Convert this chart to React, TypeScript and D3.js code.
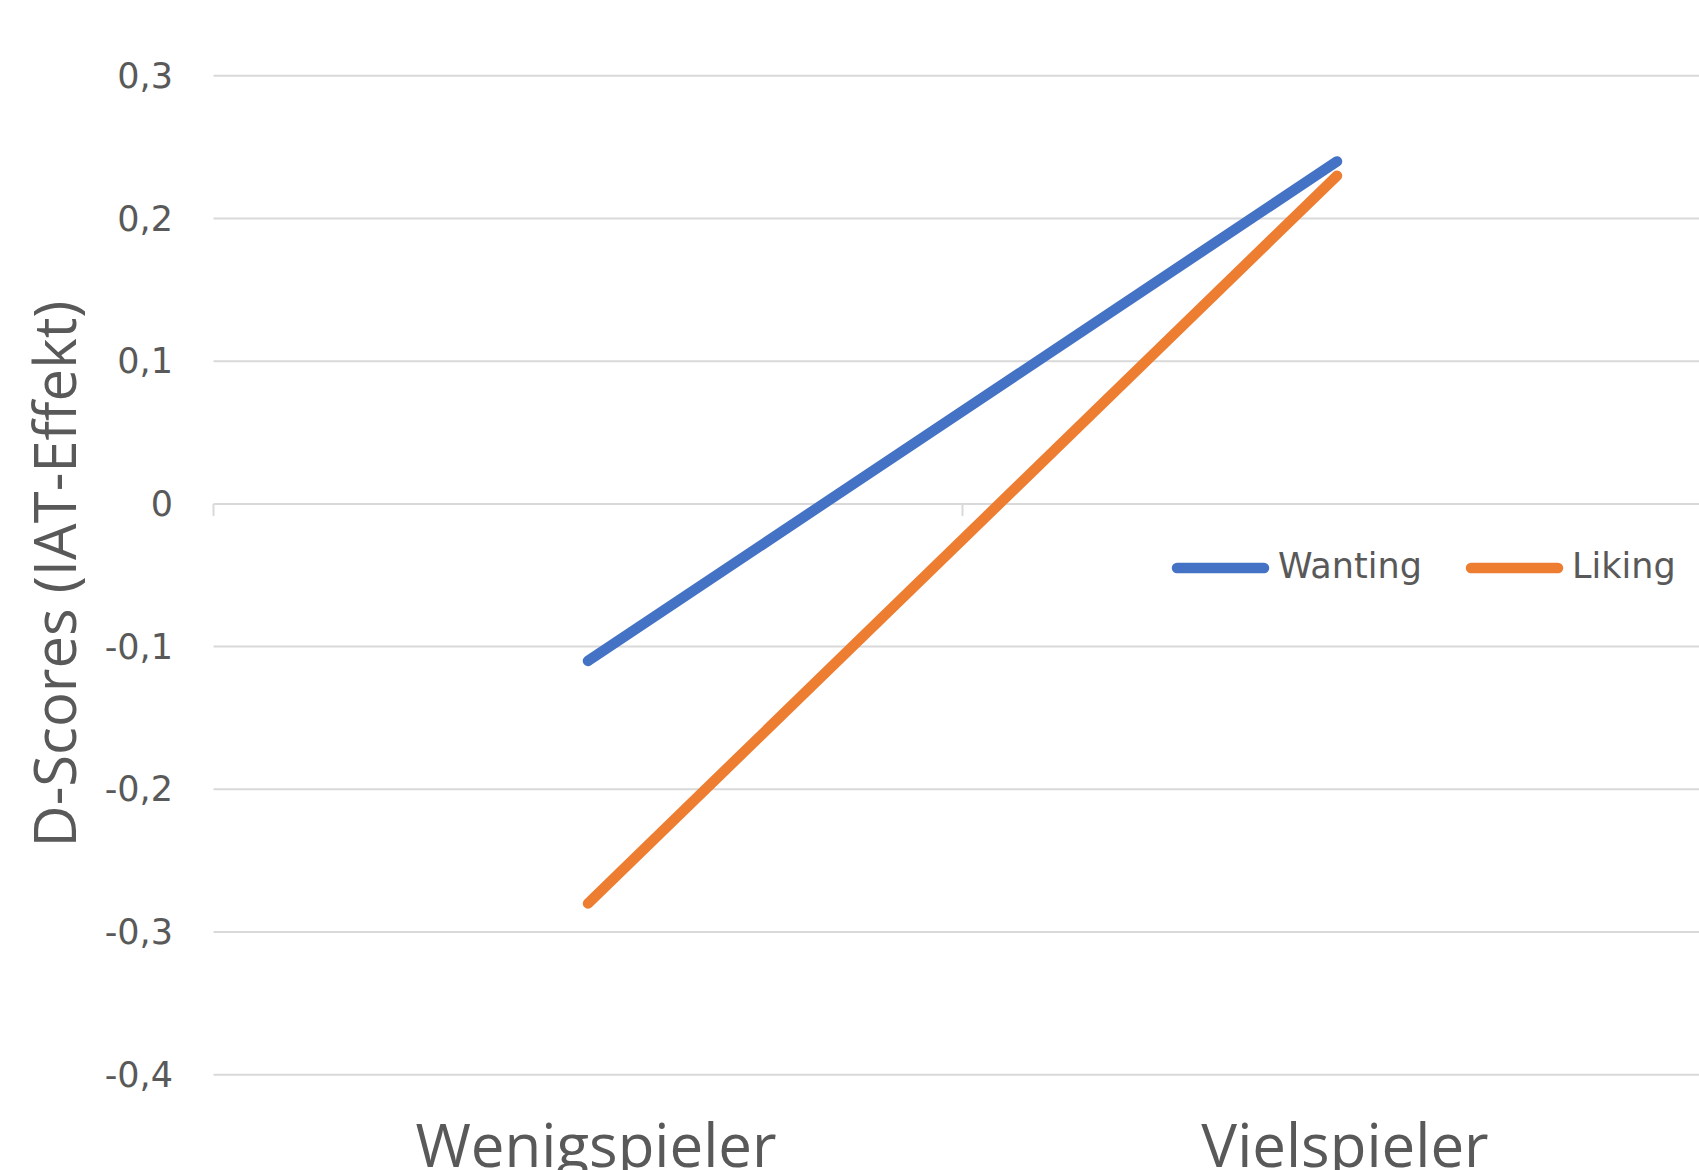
import React from "react";
import * as d3 from "d3";

const categories = ["Wenigspieler", "Vielspieler"];
const wanting = [-0.11, 0.24];
const liking = [-0.28, 0.23];
const yTicks = [0.3, 0.2, 0.1, 0, -0.1, -0.2, -0.3, -0.4];
const seriesNames = ["Wanting", "Liking"];
const seriesColors = ["#4472C4", "#ED7D31"];
const yTitle = "D-Scores (IAT-Effekt)";

const W = 1699;
const H = 1170;

export default function App() {
  const x = d3.scalePoint<string>().domain(categories).range([213.5, 1711.5]).padding(0.5);
  const y = d3.scaleLinear().domain([-0.4, 0.3]).range([1074.7, 75.8]);
  const fmt = (v: number) => (v === 0 ? "0" : d3.format(".1f")(v).replace(".", ",").replace("−", "-"));
  const line = d3
    .line<[string, number]>()
    .x((d) => x(d[0]) as number)
    .y((d) => y(d[1]));
  const series = [wanting, liking];
  const step = x.step();
  const bandEdges = [213.5, 213.5 + step];
  const textColor = "#595959";
  const legendX = [1177, 1471];
  const legendY = 568;

  return (
    <svg
      width={W}
      height={H}
      style={{ position: "absolute", left: 0, top: 0, background: "#fff" }}
    >
      <rect x={0} y={0} width={W} height={H} fill="#fff" />
      {yTicks.map((t) => (
        <g key={t}>
          <line x1={213.5} x2={W} y1={y(t)} y2={y(t)} stroke="#d9d9d9" strokeWidth={2} />
          <text
            x={173}
            y={y(t)}
            textAnchor="end"
            dominantBaseline="central"
            fontFamily="DejaVu Sans"
            fontSize={35}
            fill={textColor}
          >
            {fmt(t)}
          </text>
        </g>
      ))}
      {bandEdges.map((bx) => (
        <line key={bx} x1={bx} x2={bx} y1={y(0)} y2={y(0) + 12} stroke="#d9d9d9" strokeWidth={2} />
      ))}
      {series.map((s, i) => (
        <path
          key={i}
          d={line(categories.map((c, j) => [c, s[j]] as [string, number])) || ""}
          fill="none"
          stroke={seriesColors[i]}
          strokeWidth={10.5}
          strokeLinecap="round"
        />
      ))}
      {seriesNames.map((n, i) => (
        <g key={n}>
          <line
            x1={legendX[i]}
            x2={legendX[i] + 87}
            y1={legendY}
            y2={legendY}
            stroke={seriesColors[i]}
            strokeWidth={10.5}
            strokeLinecap="round"
          />
          <text
            x={legendX[i] + 101}
            y={legendY - 2}
            dominantBaseline="central"
            fontFamily="DejaVu Sans"
            fontSize={35}
            fill={textColor}
          >
            {n}
          </text>
        </g>
      ))}
      {categories.map((c) => (
        <text
          key={c}
          x={(x(c) as number) + 8}
          y={1167}
          textAnchor="middle"
          fontFamily="Open Sans"
          fontSize={60}
          fill={textColor}
        >
          {c}
        </text>
      ))}
      <text
        transform={`translate(76, 574) rotate(-90)`}
        textAnchor="middle"
        fontFamily="Open Sans"
        fontSize={58}
        fill={textColor}
      >
        {yTitle}
      </text>
    </svg>
  );
}
